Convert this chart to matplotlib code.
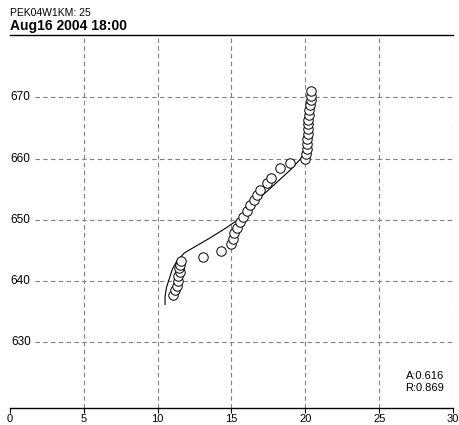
import matplotlib
matplotlib.use("Agg")
import matplotlib.pyplot as plt

plt.rcParams['font.family'] = ['Liberation Sans', 'DejaVu Sans']

station = "PEK04W1KM: 25"
timestamp = "Aug16 2004 18:00"
stats = ["A:0.616", "R:0.869"]

x_ticks = [0, 5, 10, 15, 20, 25, 30]
y_ticks = [630, 640, 650, 660, 670]

obs_x = [11.05, 11.2, 11.3, 11.4, 11.4, 11.5, 11.45, 11.5, 11.6,
         13.1, 14.3, 14.95, 15.1, 15.15, 15.4, 15.6, 15.8, 16.05, 16.25,
         16.5, 16.7, 16.9, 17.4, 17.7, 18.3, 18.96,
         20.0, 20.05, 20.1, 20.1, 20.1, 20.15, 20.15, 20.2, 20.2, 20.25,
         20.25, 20.3, 20.35, 20.35, 20.4]
obs_y = [637.8, 638.6, 639.3, 640.1, 640.8, 641.5, 642.1, 642.7, 643.3,
         644.0, 644.9, 646.0, 646.9, 647.8, 648.7, 649.6, 650.5, 651.4, 652.5,
         653.3, 654.1, 654.9, 656.1, 656.9, 658.5, 659.3,
         660.0, 660.8, 661.6, 662.4, 663.2, 664.0, 664.8, 665.6, 666.4, 667.2,
         668.0, 668.8, 669.6, 670.3, 671.0]

fit_x = [10.5, 10.5, 10.6, 10.8, 11.0, 11.3, 11.8, 12.5, 13.5, 14.5, 15.3,
         15.9, 16.4, 17.0, 18.0, 19.0, 19.8, 20.0, 20.05, 20.1, 20.2, 20.3]
fit_y = [636.2, 637.5, 639.0, 640.5, 642.0, 643.3, 644.6, 645.6, 647.0, 648.5, 649.8,
         651.0, 652.3, 653.8, 656.0, 658.2, 660.3, 661.5, 664.0, 667.0, 669.5, 671.0]

W, H = 459, 425
fig = plt.figure(figsize=(W / 100, H / 100), dpi=100)
left, right, bottom, top = 10, 453, 408, 35
ax = fig.add_axes([left / W, 1 - bottom / H, (right - left) / W, (bottom - top) / H])
ax.set_xlim(0, 30)
ax.set_ylim(619.3, 680.2)

for s in ['left', 'right']:
    ax.spines[s].set_visible(False)
for s in ['top', 'bottom']:
    ax.spines[s].set_linewidth(1.0)
    ax.spines[s].set_color('black')

grid_kw = dict(color='#808080', linewidth=0.8, linestyle=(0, (4, 3)), zorder=1)
for xv in x_ticks[1:]:
    ax.axvline(xv, **grid_kw)
for yv in y_ticks:
    ax.plot([1.7, 30], [yv, yv], **grid_kw)
    ax.text(1.4, yv, str(yv), ha='right', va='center', fontsize=8.5)

ax.set_xticks(x_ticks)
ax.set_xticklabels([str(v) for v in x_ticks], fontsize=8)
ax.tick_params(axis='x', direction='out', length=3.5, width=0.8, pad=0.5)
ax.set_yticks([])

ax.plot(fit_x, fit_y, color='black', linewidth=0.8, zorder=3)
ax.plot(obs_x, obs_y, linestyle='none', marker='o', markersize=6.8,
        markerfacecolor='white', markeredgecolor='black', markeredgewidth=0.7,
        zorder=4)

ax.text(29.4, 623.5, stats[0] + "\n" + stats[1], ha='right', va='center',
        fontsize=8, linespacing=1.3)

fig.text(10 / W, 1 - 13 / H, station, ha='left', va='center', fontsize=7.5)
fig.text(10 / W, 1 - 26 / H, timestamp, ha='left', va='center', fontsize=10,
         fontweight='bold')

fig.savefig("out.png", dpi=100)
